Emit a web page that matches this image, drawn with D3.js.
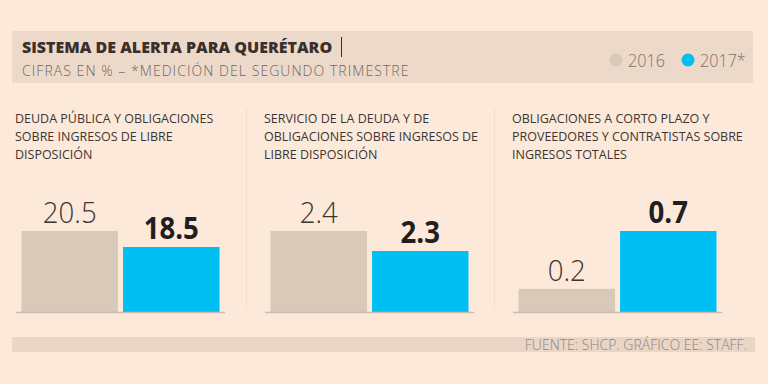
<!DOCTYPE html>
<html><head><meta charset="utf-8">
<script src="https://cdn.jsdelivr.net/npm/d3@7"></script>
<style>
html,body{margin:0;padding:0;background:#fde9d9;}
svg{display:block;font-family:"Open Sans",sans-serif;}
</style></head>
<body>
<svg id="c" width="768" height="384"></svg>
<script>
// ---- data ----
const chartTitle = "SISTEMA DE ALERTA PARA QUERÉTARO";
const chartSubtitle = "CIFRAS EN % – *MEDICIÓN DEL SEGUNDO TRIMESTRE";
const sourceNote = "FUENTE: SHCP. GRÁFICO EE: STAFF.";
const years = ["2016", "2017*"];
const panelTitles = [
  ["DEUDA PÚBLICA Y OBLIGACIONES", "SOBRE INGRESOS DE LIBRE", "DISPOSICIÓN"],
  ["SERVICIO DE LA DEUDA Y DE", "OBLIGACIONES SOBRE INGRESOS DE", "LIBRE DISPOSICIÓN"],
  ["OBLIGACIONES A CORTO PLAZO Y", "PROVEEDORES Y CONTRATISTAS SOBRE", "INGRESOS TOTALES"]
];
const values2016 = [20.5, 2.4, 0.2];
const values2017 = [18.5, 2.3, 0.7];
// the original graphic does not start its bars at zero: per-panel axis floor
const axisFloor = [10.375, 1.995, 0];

// ---- style ----
const bg = "#fde9d9", boxFill = "#ecd9ca", grayBar = "#d9c9b9", blueBar = "#00bff3";
const colors = [grayBar, blueBar];

const svg = d3.select("#c");
svg.append("rect").attr("width", 768).attr("height", 384).attr("fill", bg);

function condense(sel, f) {
  sel.each(function () {
    const w = this.getComputedTextLength();
    d3.select(this).attr("textLength", w * f).attr("lengthAdjust", "spacingAndGlyphs");
  });
  return sel;
}

// header
svg.append("rect").attr("x", 12).attr("y", 31).attr("width", 741).attr("height", 52).attr("fill", boxFill);
svg.append("text").attr("x", 22).attr("y", 53).attr("font-size", 16).attr("font-weight", 800)
  .attr("fill", "#3a2f2b").text(chartTitle);
svg.append("line").attr("x1", 341.5).attr("x2", 341.5).attr("y1", 37).attr("y2", 57)
  .attr("stroke", "#3a2f2b").attr("stroke-width", 1);
svg.append("text").attr("x", 22).attr("y", 76).attr("font-size", 14).attr("font-weight", 300)
  .attr("letter-spacing", 1.05).attr("fill", "#6e6662").text(chartSubtitle);

// legend
const legendX = [616, 688];
years.forEach((y, i) => {
  svg.append("circle").attr("cx", legendX[i]).attr("cy", 60).attr("r", 6.5).attr("fill", colors[i]);
  const lt = svg.append("text").attr("x", legendX[i] + 12).attr("y", 67).attr("font-size", 19)
    .attr("font-weight", 300).attr("fill", "#7a716c").text(y);
  condense(lt, 0.85);
});

// panels
const panelLeft = [15, 264, 512];
const baseY = 312, topY = 231;
[246, 494].forEach(x => svg.append("line").attr("x1", x + 0.5).attr("x2", x + 0.5).attr("y1", 108).attr("y2", 310)
  .attr("stroke", "#f2dccb").attr("stroke-width", 1));

panelTitles.forEach((lines, p) => {
  const g = svg.append("g");
  const x0 = panelLeft[p];
  lines.forEach((ln, k) => {
    const tt = g.append("text").attr("x", x0).attr("y", 123 + k * 18).attr("font-size", 13.5)
      .attr("font-weight", 400).attr("fill", "#3b3633").text(ln);
    condense(tt, 0.925);
  });
  const x = d3.scaleBand().domain(years).range([x0 + 6.5, x0 + 204.5]).paddingInner(0.05);
  const y = d3.scaleLinear().domain([axisFloor[p], Math.max(values2016[p], values2017[p])]).range([baseY, topY]);
  const vals = [values2016[p], values2017[p]];
  g.selectAll("rect.bar").data(years).join("rect").attr("class", "bar")
    .attr("x", d => x(d)).attr("width", x.bandwidth())
    .attr("y", (d, i) => y(vals[i])).attr("height", (d, i) => baseY - y(vals[i]))
    .attr("fill", (d, i) => colors[i]);
  g.append("line").attr("x1", x0 + 1).attr("x2", x0 + 210).attr("y1", baseY + 0.5).attr("y2", baseY + 0.5)
    .attr("stroke", "#cbbcae").attr("stroke-width", 1.5);
  g.selectAll("text.val").data(years).join("text").attr("class", "val")
    .attr("x", d => x(d) + x.bandwidth() / 2).attr("y", (d, i) => y(vals[i]) - 8)
    .attr("text-anchor", "middle").attr("font-size", 30)
    .attr("font-weight", (d, i) => i === 0 ? 300 : 700)
    .attr("fill", (d, i) => i === 0 ? "#3c3430" : "#221e1f")
    .text((d, i) => vals[i].toFixed(1))
    .call(s => condense(s, 0.92));
});

// footer
svg.append("rect").attr("x", 12).attr("y", 337).attr("width", 743).attr("height", 15).attr("fill", "#ead6c7");
svg.append("text").attr("x", 747).attr("y", 349.5).attr("text-anchor", "end").attr("font-size", 14)
  .attr("font-weight", 300).attr("fill", "#8e8580").text(sourceNote);
</script>
</body></html>
